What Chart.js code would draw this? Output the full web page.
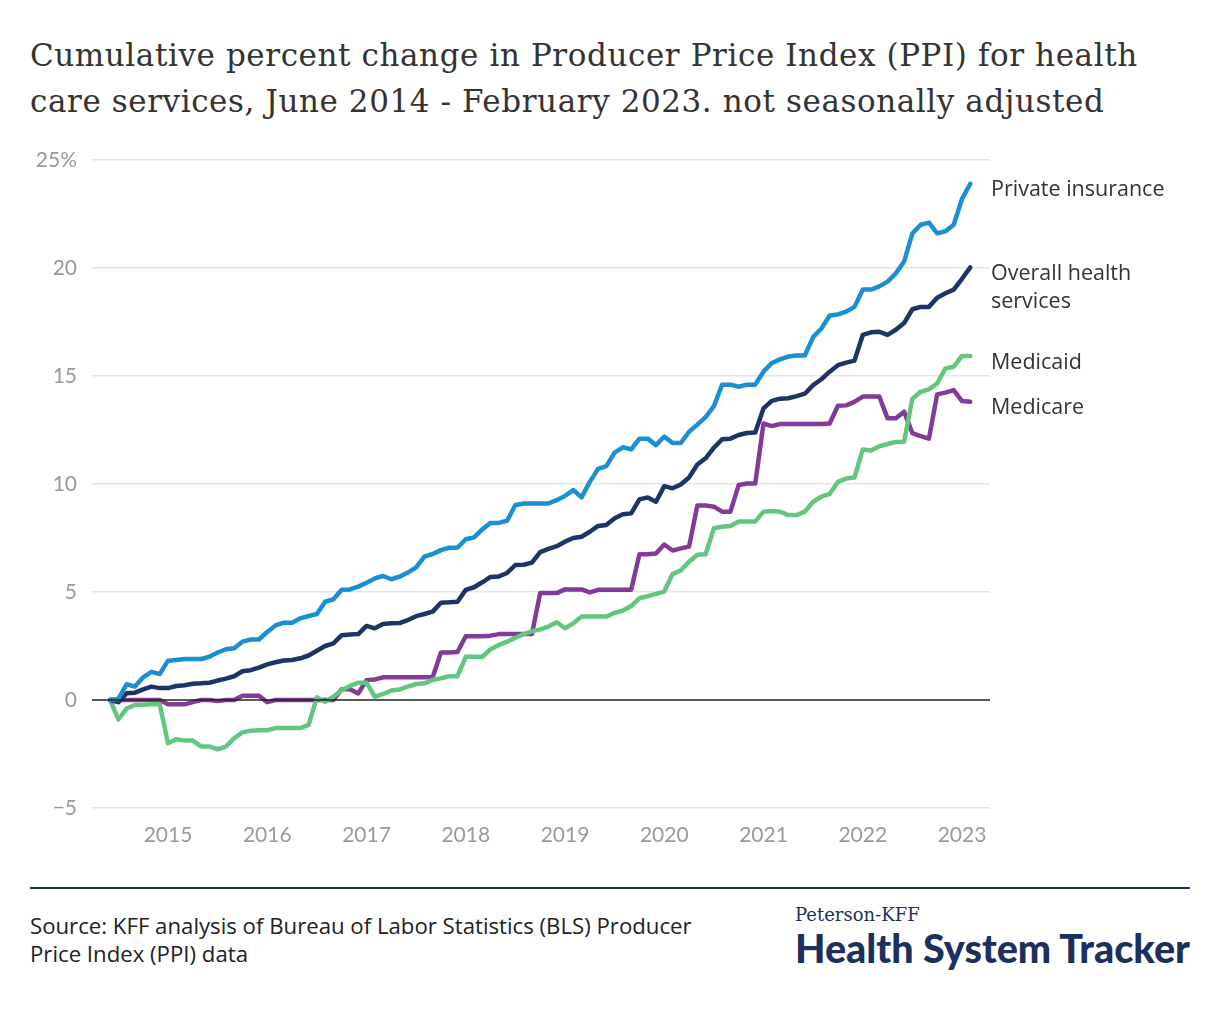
<!DOCTYPE html>
<html>
<head>
<meta charset="utf-8">
<script src="https://cdn.jsdelivr.net/npm/chart.js@4.4.1/dist/chart.umd.min.js"></script>
<style>
  html, body { margin: 0; padding: 0; background: #fff; }
  body { width: 1220px; height: 1020px; position: relative; overflow: hidden; }
  #title { position: absolute; left: 30px; top: 32px; width: 1190px; white-space: nowrap; font-family: "DejaVu Serif", serif; font-size: 31px; line-height: 46px; letter-spacing: 0.58px; color: #333; }
  #wrap { position: absolute; left: 0; top: 140px; width: 1220px; height: 720px; }
  #rule { position: absolute; left: 30px; top: 887px; width: 1160px; height: 2px; background: #1d2f5c; }
  #source { position: absolute; left: 30px; top: 912px; font-family: "Open Sans", sans-serif; font-size: 22.2px; line-height: 28px; color: #222; }
  #brand1 { position: absolute; left: 795px; top: 904px; font-family: "DejaVu Serif", serif; font-size: 18px; color: #1d2f5c; }
  #brand2 { position: absolute; left: 795px; top: 924px; font-family: "Lato", sans-serif; font-weight: 900; font-size: 39.5px; color: #1d2f5c; }
</style>
</head>
<body>
<div id="title">Cumulative percent change in Producer Price Index (PPI) for health<br>care services, June 2014 - February 2023. not seasonally adjusted</div>
<div id="wrap"><canvas id="c" width="1220" height="720"></canvas></div>
<div id="rule"></div>
<div id="source">Source: KFF analysis of Bureau of Labor Statistics (BLS) Producer<br>Price Index (PPI) data</div>
<div id="brand1">Peterson-KFF</div>
<div id="brand2">Health System Tracker</div>
<script>
// Monthly observations, June 2014 through February 2023 (105 months)
const startYear = 2014;
const startMonth = 6; // June
const monthCount = 105;
const categories = [];
for (let i = 0; i < monthCount; i++) {
  const m = (startMonth - 1 + i);
  categories.push((startYear + Math.floor(m / 12)) + '-' + String(m % 12 + 1).padStart(2, '0'));
}

const privateInsurance = [
  0, 0.05, 0.73, 0.62, 1.05, 1.3, 1.2, 1.82, 1.85, 1.9,
  1.9, 1.9, 2.0, 2.2, 2.35, 2.4, 2.7, 2.8, 2.8, 3.15,
  3.45, 3.58, 3.58, 3.78, 3.89, 3.98, 4.55, 4.66, 5.1, 5.12,
  5.25, 5.43, 5.63, 5.74, 5.59, 5.71, 5.9, 6.14, 6.64, 6.76,
  6.94, 7.05, 7.05, 7.44, 7.53, 7.9, 8.2, 8.2, 8.3, 9.03,
  9.1, 9.1, 9.1, 9.1, 9.25, 9.45, 9.72, 9.38, 10.1, 10.7,
  10.83, 11.45, 11.7, 11.6, 12.1, 12.1, 11.8, 12.2, 11.9, 11.9,
  12.42, 12.75, 13.1, 13.6, 14.6, 14.6, 14.5, 14.6, 14.6, 15.2,
  15.6, 15.77, 15.9, 15.95, 15.95, 16.8, 17.2, 17.8, 17.85, 17.98,
  18.2, 19.0, 19.0, 19.15, 19.37, 19.75, 20.3, 21.6, 22.0, 22.1,
  21.6, 21.7, 22.0, 23.2, 23.9
];
const overallHealth = [
  0, -0.1, 0.31, 0.34, 0.49, 0.62, 0.55, 0.55, 0.65, 0.68,
  0.75, 0.77, 0.8, 0.9, 0.99, 1.1, 1.33, 1.38, 1.5, 1.65,
  1.75, 1.83, 1.85, 1.93, 2.06, 2.28, 2.5, 2.62, 3.0, 3.03,
  3.05, 3.43, 3.32, 3.52, 3.55, 3.56, 3.7, 3.88, 3.98, 4.09,
  4.5, 4.52, 4.55, 5.1, 5.22, 5.45, 5.7, 5.72, 5.88, 6.25,
  6.26, 6.36, 6.85, 7.0, 7.12, 7.33, 7.5, 7.56, 7.79, 8.06,
  8.1, 8.41, 8.6, 8.64, 9.29, 9.38, 9.18, 9.9, 9.8, 9.98,
  10.3, 10.9, 11.19, 11.68, 12.07, 12.1, 12.27, 12.36, 12.38, 13.5,
  13.85, 13.95, 13.97, 14.07, 14.18, 14.58, 14.85, 15.2, 15.5, 15.62,
  15.71, 16.9, 17.02, 17.05, 16.9, 17.14, 17.45, 18.09, 18.2, 18.2,
  18.62, 18.83, 19.0, 19.5, 20.03
];
const medicaid = [
  0, -0.9, -0.4, -0.23, -0.22, -0.2, -0.2, -2.0, -1.82, -1.88,
  -1.88, -2.15, -2.15, -2.28, -2.16, -1.77, -1.5, -1.42, -1.4, -1.4,
  -1.3, -1.3, -1.3, -1.3, -1.15, 0.12, -0.08, 0.15, 0.46, 0.65,
  0.8, 0.8, 0.15, 0.28, 0.44, 0.49, 0.62, 0.74, 0.77, 0.93,
  1.0, 1.1, 1.1, 2.0, 2.0, 2.0, 2.35, 2.55, 2.7, 2.88,
  3.05, 3.18, 3.27, 3.4, 3.6, 3.32, 3.55, 3.86, 3.86, 3.86,
  3.86, 4.04, 4.14, 4.35, 4.71, 4.81, 4.91, 5.02, 5.83, 6.0,
  6.4, 6.72, 6.75, 7.95, 8.02, 8.06, 8.26, 8.26, 8.26, 8.72,
  8.75, 8.72, 8.56, 8.56, 8.72, 9.18, 9.41, 9.54, 10.1, 10.25,
  10.3, 11.6, 11.55, 11.75, 11.85, 11.95, 11.96, 13.95, 14.27, 14.38,
  14.66, 15.35, 15.43, 15.93, 15.93
];
const medicare = [
  0, 0, 0, 0, 0, 0, 0, -0.2, -0.2, -0.2,
  -0.1, 0, 0, -0.05, 0, 0, 0.2, 0.2, 0.2, -0.1,
  0, 0, 0, 0, 0, 0, 0, 0, 0.5, 0.5,
  0.3, 0.92, 0.95, 1.05, 1.05, 1.05, 1.05, 1.05, 1.05, 1.05,
  2.2, 2.2, 2.22, 2.95, 2.95, 2.95, 2.98, 3.05, 3.05, 3.05,
  3.05, 3.05, 4.95, 4.95, 4.95, 5.12, 5.12, 5.12, 4.98, 5.1,
  5.1, 5.1, 5.1, 5.1, 6.75, 6.75, 6.78, 7.2, 6.92, 7.02,
  7.1, 9.0, 9.0, 8.95, 8.72, 8.72, 9.95, 10.02, 10.02, 12.8,
  12.68, 12.78, 12.78, 12.78, 12.78, 12.78, 12.78, 12.8, 13.62, 13.64,
  13.8, 14.05, 14.05, 14.05, 13.04, 13.04, 13.35, 12.35, 12.22, 12.1,
  14.15, 14.23, 14.35, 13.84, 13.81
];

const seriesNames = ['Private insurance', 'Overall health services', 'Medicaid', 'Medicare'];
const seriesLabelLines = [['Private insurance'], ['Overall health', 'services'], ['Medicaid'], ['Medicare']];
const seriesColors = ['#1a8fd1', '#1e3366', '#64c57e', '#823b97'];
const seriesValues = [privateInsurance, overallHealth, medicaid, medicare];
const yearTicks = [2015, 2016, 2017, 2018, 2019, 2020, 2021, 2022, 2023];
const yTicks = [-5, 0, 5, 10, 15, 20, 25];

function toDecimalYear(label) {
  const [y, m] = label.split('-').map(Number);
  return y + (m - 1) / 12;
}

const datasets = seriesValues.map((vals, k) => ({
  label: seriesNames[k],
  data: vals.map((v, i) => ({ x: toDecimalYear(categories[i]), y: v })),
  borderColor: seriesColors[k],
  backgroundColor: seriesColors[k],
  borderWidth: 4.5,
  pointRadius: 0,
  tension: 0,
  borderCapStyle: 'round',
  borderJoinStyle: 'round',
  endLabel: seriesLabelLines[k]
}));

const zeroLine = {
  id: 'zeroLine',
  afterDatasetsDraw(chart) {
    const { ctx, chartArea, scales } = chart;
    const y = scales.y.getPixelForValue(0);
    ctx.save();
    ctx.strokeStyle = '#222';
    ctx.lineWidth = 1.5;
    ctx.beginPath();
    ctx.moveTo(chartArea.left, y);
    ctx.lineTo(chartArea.right, y);
    ctx.stroke();
    ctx.restore();
  }
};

const endLabels = {
  id: 'endLabels',
  afterDraw(chart) {
    const { ctx, chartArea, scales } = chart;
    ctx.save();
    ctx.font = '21.5px "Open Sans", sans-serif';
    ctx.fillStyle = '#333';
    ctx.textBaseline = 'middle';
    ctx.textAlign = 'left';
    chart.data.datasets.forEach(ds => {
      const last = ds.data[ds.data.length - 1];
      const y0 = scales.y.getPixelForValue(last.y) + 6.5;
      ds.endLabel.forEach((line, j) => {
        ctx.fillText(line, chartArea.right + 1, y0 + j * 28);
      });
    });
    ctx.restore();
  }
};

new Chart(document.getElementById('c'), {
  type: 'line',
  data: { datasets },
  options: {
    responsive: false,
    animation: false,
    layout: { padding: { left: 0, right: 230, top: 20, bottom: 12 } },
    plugins: { legend: { display: false }, tooltip: { enabled: false } },
    scales: {
      x: {
        type: 'linear',
        min: 2014.2343,
        max: 2023.2821,
        grid: { display: false, drawTicks: false },
        border: { display: false },
        afterBuildTicks: s => { s.ticks = yearTicks.map(v => ({ value: v })); },
        afterFit: s => { s.height = 40; s.paddingLeft = 0; s.paddingRight = 0; },
        ticks: {
          autoSkip: false, maxRotation: 0, padding: 15,
          color: '#9a9a9a',
          font: { family: '"Lato", sans-serif', size: 21 },
          callback: v => String(v)
        }
      },
      y: {
        min: -5, max: 25,
        grid: {
          drawTicks: false,
          color: ctx => ctx.tick && ctx.tick.value === 0 ? 'rgba(0,0,0,0)' : '#e4e4e4',
          lineWidth: 1.5
        },
        border: { display: false },
        afterBuildTicks: s => { s.ticks = yTicks.map(v => ({ value: v })); },
        afterFit: s => { s.width = 92; s.paddingTop = 0; s.paddingBottom = 0; },
        ticks: {
          padding: 15,
          color: '#9a9a9a',
          font: { family: '"Lato", sans-serif', size: 21 },
          callback: v => v === 25 ? '25%' : (v < 0 ? '\u2212' + Math.abs(v) : String(v))
        }
      }
    }
  },
  plugins: [zeroLine, endLabels]
});
</script>
</body>
</html>
